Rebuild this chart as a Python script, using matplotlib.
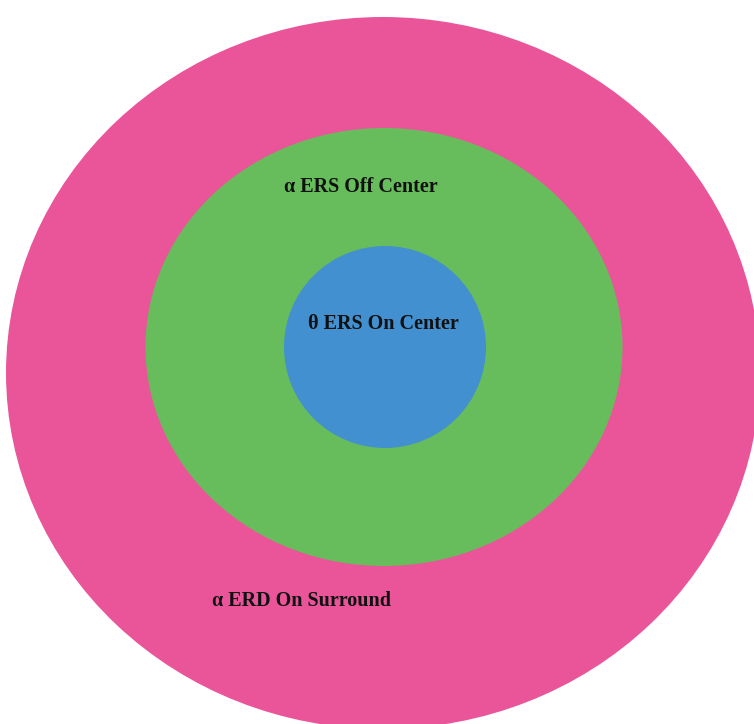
import matplotlib.pyplot as plt
from matplotlib.patches import Ellipse

# rings, outer to inner (pixel-ish units of the picture)
labels = ["α ERD On Surround", "α ERS Off Center", "θ ERS On Center"]
centers_x = [383, 384, 385]
centers_y = [373, 347, 347]
widths = [754, 477, 202]
heights = [712, 438, 202]
colors = ["#EA559A", "#67BD5B", "#4290CF"]
label_x = [301, 361, 383]
label_y = [601, 187, 324]

fig = plt.figure(figsize=(7.54, 7.24), dpi=100)
ax = fig.add_axes([0, 0, 1, 1])
ax.set_xlim(0, 754)
ax.set_ylim(724, 0)
ax.axis("off")

for cx, cy, w, h, c in zip(centers_x, centers_y, widths, heights, colors):
    ax.add_patch(Ellipse((cx, cy), w, h, facecolor=c, edgecolor="none"))

for lab, lx, ly in zip(labels, label_x, label_y):
    ax.text(lx, ly, lab, ha="center", va="center", fontsize=14.5,
            fontweight="bold", family=["Liberation Serif", "DejaVu Serif"],
            color="#111111")

fig.savefig("out.png", dpi=100, facecolor="white")
